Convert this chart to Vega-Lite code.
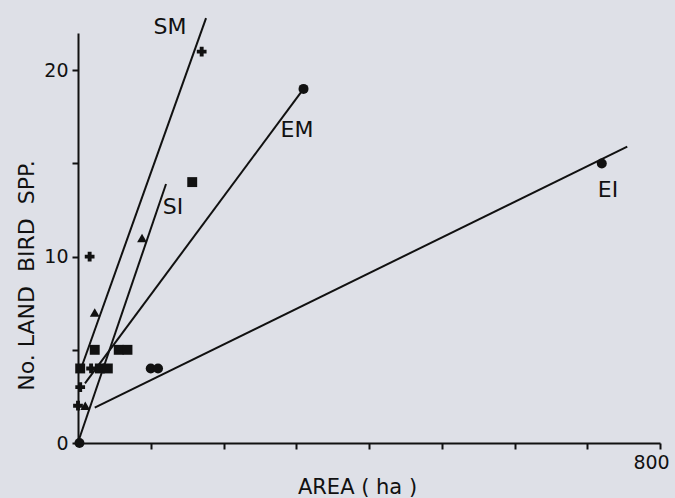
{
  "$schema": "https://vega.github.io/schema/vega-lite/v6.json",
  "width": 582,
  "height": 410,
  "autosize": "none",
  "padding": {"left": 78, "top": 33, "right": 15, "bottom": 55},
  "background": "#dee0e7",
  "config": {
    "view": {"stroke": null},
    "font": "DejaVu Sans",
    "axis": {
      "grid": false,
      "domainColor": "#111111",
      "domainWidth": 2,
      "tickColor": "#111111",
      "tickWidth": 2,
      "tickSize": 6,
      "labelColor": "#111111",
      "labelFontSize": 19,
      "labelPadding": 4,
      "titleColor": "#111111",
      "titleFontSize": 21,
      "titleFontWeight": "normal"
    }
  },
  "datasets": {
    "fits": [
      {"grp": "SM", "area": 6, "spp": 4.2},
      {"grp": "SM", "area": 176, "spp": 22.8},
      {"grp": "SI", "area": 1.5, "spp": 0.2},
      {"grp": "SI", "area": 121, "spp": 13.9},
      {"grp": "EM", "area": 9.6, "spp": 3.2},
      {"grp": "EM", "area": 310, "spp": 19},
      {"grp": "EI", "area": 23, "spp": 1.9},
      {"grp": "EI", "area": 755, "spp": 15.9}
    ],
    "islands": [
      {"sym": "circle", "area": 310, "spp": 19},
      {"sym": "circle", "area": 720, "spp": 15},
      {"sym": "circle", "area": 100, "spp": 4},
      {"sym": "circle", "area": 110, "spp": 4},
      {"sym": "circle", "area": 2, "spp": 0},
      {"sym": "square", "area": 157, "spp": 14},
      {"sym": "square", "area": 23, "spp": 5},
      {"sym": "square", "area": 56, "spp": 5},
      {"sym": "square", "area": 68, "spp": 5},
      {"sym": "square", "area": 3, "spp": 4},
      {"sym": "square", "area": 30, "spp": 4},
      {"sym": "square", "area": 41, "spp": 4},
      {"sym": "triangle", "area": 88, "spp": 11},
      {"sym": "triangle", "area": 23, "spp": 7},
      {"sym": "triangle", "area": 10, "spp": 2},
      {"sym": "star", "area": 170, "spp": 21},
      {"sym": "star", "area": 16, "spp": 10},
      {"sym": "star", "area": 18, "spp": 4},
      {"sym": "star", "area": 3, "spp": 3},
      {"sym": "star", "area": 0, "spp": 2}
    ],
    "names": [
      {"name": "SM", "area": 126.5, "spp": 22.3},
      {"name": "EM", "area": 301, "spp": 16.8},
      {"name": "SI", "area": 130.6, "spp": 12.65},
      {"name": "EI", "area": 728.5, "spp": 13.6}
    ]
  },
  "layer": [
    {
      "data": {"name": "fits"},
      "mark": {"type": "line", "color": "#111111", "strokeWidth": 2, "clip": false},
      "encoding": {
        "x": {
          "field": "area",
          "type": "quantitative",
          "scale": {"domain": [0, 800], "nice": false, "zero": true},
          "axis": {
            "title": "AREA ( ha )",
            "values": [100, 200, 300, 400, 500, 600, 700, 800],
            "labelExpr": "datum.value == 800 ? '800' : ''",
            "labelFlush": false,
            "labelAlign": "center",
            "labelOffset": -9,
            "titleX": 279,
            "titleY": 33,
            "titleAlign": "center",
            "titleBaseline": "top"
          }
        },
        "y": {
          "field": "spp",
          "type": "quantitative",
          "scale": {"domain": [0, 22], "nice": false},
          "axis": {
            "title": "No. LAND\u00a0 BIRD\u00a0 SPP.",
            "titleFontSize": 22,
            "values": [0, 5, 10, 15, 20],
            "labelExpr": "datum.value % 10 == 0 ? datum.label : ''",
            "titleX": -52,
            "titleY": 242,
            "titleAngle": -90,
            "titleAlign": "center",
            "titleBaseline": "middle"
          }
        },
        "detail": {"field": "grp"}
      }
    },
    {
      "data": {"name": "islands"},
      "mark": {"type": "point", "filled": true, "color": "#111111", "opacity": 1, "clip": false},
      "encoding": {
        "x": {"field": "area", "type": "quantitative"},
        "y": {"field": "spp", "type": "quantitative"},
        "shape": {
          "field": "sym",
          "type": "nominal",
          "scale": {"domain": ["circle", "square", "triangle", "star"], "range": ["circle", "square", "triangle-up", "cross"]},
          "legend": null
        },
        "size": {
          "field": "sym",
          "type": "nominal",
          "scale": {"domain": ["circle", "square", "triangle", "star"], "range": [100, 95, 110, 24]},
          "legend": null
        }
      }
    },
    {
      "data": {"name": "names"},
      "mark": {"type": "text", "fontSize": 22, "color": "#111111", "align": "center", "baseline": "middle", "clip": false},
      "encoding": {
        "x": {"field": "area", "type": "quantitative"},
        "y": {"field": "spp", "type": "quantitative"},
        "text": {"field": "name"}
      }
    }
  ]
}
